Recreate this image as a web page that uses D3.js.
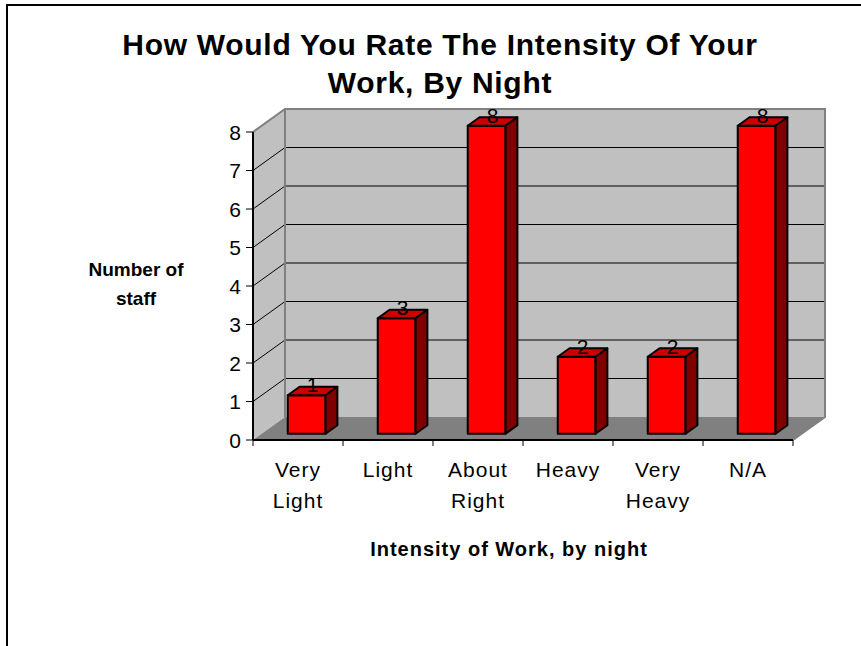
<!DOCTYPE html>
<html>
<head>
<meta charset="utf-8">
<script src="https://cdn.jsdelivr.net/npm/d3@7"></script>
<style>
  body { margin: 0; background: #fff; }
  text { font-family: Arial, "Liberation Sans", sans-serif; }
</style>
</head>
<body>
<div id="chart"></div>
<script>
// data
const categories = ["Very Light", "Light", "About Right", "Heavy", "Very Heavy", "N/A"];
const staffCounts = [1, 3, 8, 2, 2, 8];
const yTicks = [0, 1, 2, 3, 4, 5, 6, 7, 8];
const titleLines = ["How Would You Rate The Intensity Of Your", "Work, By Night"];
const yTitleLines = ["Number of", "staff"];
const xTitle = "Intensity of Work, by night";

const width = 861, height = 646;
const DX = 32, DY = -23;          // depth of the 3d box
const barFront = 0.27, barBack = 0.64;   // bar position in depth

const svg = d3.select("#chart").append("svg")
    .attr("width", width)
    .attr("height", height);

// outer frame
svg.append("rect")
    .attr("x", 7).attr("y", 5)
    .attr("width", width + 10).attr("height", height + 10)
    .attr("fill", "none").attr("stroke", "#000").attr("stroke-width", 2);

const x = d3.scaleBand().domain(categories).range([253, 793]);
const y = d3.scaleLinear().domain([0, 8]).range([440, 132]);

const pts = p => p.map(d => d.join(",")).join(" ");

// walls and floor
const g = svg.append("g");
g.append("polygon")
    .attr("points", pts([[253, y(8)], [253 + DX, y(8) + DY], [253 + DX, y(0) + DY], [253, y(0)]]))
    .attr("fill", "#c0c0c0");
g.append("rect")
    .attr("x", 253 + DX).attr("y", y(8) + DY)
    .attr("width", 540).attr("height", y(0) - y(8))
    .attr("fill", "#c0c0c0");
g.append("polygon")
    .attr("points", pts([[253, y(0)], [793, y(0)], [793 + DX, y(0) + DY], [253 + DX, y(0) + DY]]))
    .attr("fill", "#808080");

// gridlines
yTicks.filter(t => t > 0 && t < 8).forEach(t => {
    g.append("line")
        .attr("x1", 253).attr("y1", y(t))
        .attr("x2", 253 + DX).attr("y2", y(t) + DY)
        .attr("stroke", "#000").attr("stroke-width", 1);
    g.append("line")
        .attr("x1", 253 + DX).attr("y1", y(t) + DY)
        .attr("x2", 793 + DX).attr("y2", y(t) + DY)
        .attr("stroke", "#000").attr("stroke-width", 1);
});

// wall edges
g.append("polyline")
    .attr("points", pts([[253, y(8)], [253 + DX, y(8) + DY], [793 + DX, y(8) + DY], [793 + DX, y(0) + DY], [793, y(0)]]))
    .attr("fill", "none").attr("stroke", "#808080").attr("stroke-width", 2);
g.append("line")
    .attr("x1", 253 + DX).attr("y1", y(8) + DY)
    .attr("x2", 253 + DX).attr("y2", y(0) + DY)
    .attr("stroke", "#808080").attr("stroke-width", 2);

// bars
const bw = x.bandwidth() * 0.42;
const fx = DX * barFront, fy = DY * barFront;
const sx = DX * (barBack - barFront), sy = DY * (barBack - barFront);

const bars = svg.selectAll(".bar")
    .data(categories.map((c, i) => ({ cat: c, v: staffCounts[i] })))
    .enter().append("g")
    .attr("class", "bar");

bars.each(function(d) {
    const b = d3.select(this);
    const x0 = x(d.cat) + (x.bandwidth() - bw) / 2 + fx;
    const x1 = x0 + bw;
    const yt = y(d.v) + fy, yb = y(0) + fy;
    b.append("rect")
        .attr("x", x0).attr("y", yt)
        .attr("width", bw).attr("height", yb - yt)
        .attr("fill", "#ff0000").attr("stroke", "#000").attr("stroke-width", 2)
        .attr("stroke-linejoin", "round");
    b.append("polygon")
        .attr("points", pts([[x0, yt], [x1, yt], [x1 + sx, yt + sy], [x0 + sx, yt + sy]]))
        .attr("fill", "#cc0000").attr("stroke", "#000").attr("stroke-width", 2)
        .attr("stroke-linejoin", "round");
    b.append("polygon")
        .attr("points", pts([[x1, yt], [x1 + sx, yt + sy], [x1 + sx, yb + sy], [x1, yb]]))
        .attr("fill", "#800000").attr("stroke", "#000").attr("stroke-width", 2)
        .attr("stroke-linejoin", "round");
    b.append("text")
        .attr("x", x0 + bw / 2 + sx / 2)
        .attr("y", yt - 3)
        .attr("text-anchor", "middle")
        .style("font-size", "21px")
        .text(d.v);
});

// y axis
svg.append("line")
    .attr("x1", 253).attr("y1", y(8)).attr("x2", 253).attr("y2", y(0))
    .attr("stroke", "#000").attr("stroke-width", 2);
yTicks.forEach(t => {
    svg.append("line")
        .attr("x1", 246).attr("y1", y(t)).attr("x2", 253).attr("y2", y(t))
        .attr("stroke", "#000").attr("stroke-width", 1);
    svg.append("text")
        .attr("x", 241).attr("y", y(t) + 7.5)
        .attr("text-anchor", "end")
        .style("font-size", "21px")
        .text(t);
});

// x axis
svg.append("line")
    .attr("x1", 253).attr("y1", y(0)).attr("x2", 793).attr("y2", y(0))
    .attr("stroke", "#000").attr("stroke-width", 2);
categories.forEach(c => {
    svg.append("line")
        .attr("x1", x(c)).attr("y1", y(0)).attr("x2", x(c)).attr("y2", y(0) + 6)
        .attr("stroke", "#000");
});
svg.append("line")
    .attr("x1", 793).attr("y1", y(0)).attr("x2", 793).attr("y2", y(0) + 6)
    .attr("stroke", "#000");

categories.forEach(c => {
    const words = c.split(" ");
    const t = svg.append("text")
        .attr("text-anchor", "middle")
        .style("font-size", "21px")
        .style("letter-spacing", "1px");
    words.forEach((w, i) => {
        t.append("tspan")
            .attr("x", x(c) + x.bandwidth() / 2)
            .attr("y", 477 + i * 31)
            .text(w);
    });
});

// titles
titleLines.forEach((l, i) => {
    svg.append("text")
        .attr("x", 440).attr("y", 55 + i * 38)
        .attr("text-anchor", "middle")
        .style("font-size", "30px").style("font-weight", "bold")
        .style("letter-spacing", "0.7px")
        .text(l);
});
yTitleLines.forEach((l, i) => {
    svg.append("text")
        .attr("x", 136).attr("y", 276 + i * 29)
        .attr("text-anchor", "middle")
        .style("font-size", "19px").style("font-weight", "bold")
        .text(l);
});
svg.append("text")
    .attr("x", 509).attr("y", 556)
    .attr("text-anchor", "middle")
    .style("font-size", "20px").style("font-weight", "bold")
    .style("letter-spacing", "1px")
    .text(xTitle);
</script>
</body>
</html>
